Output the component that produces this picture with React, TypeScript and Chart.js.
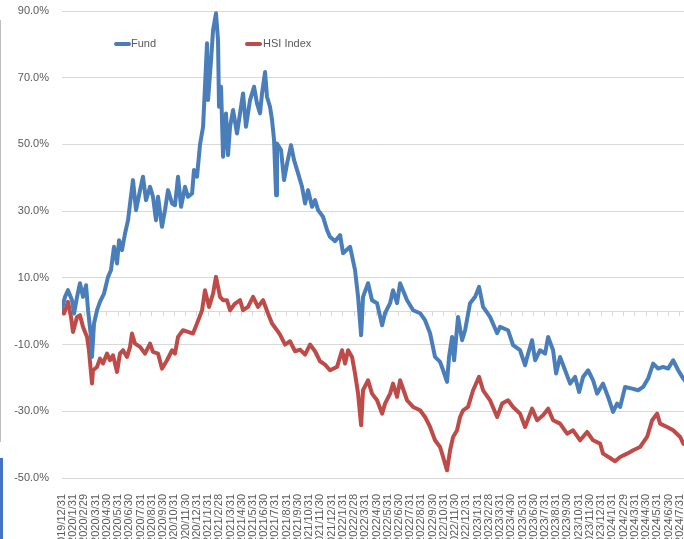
import React, { useEffect, useRef } from "react";
import { Chart, registerables } from "chart.js";

Chart.register(...registerables);

// Month-end category labels (index = months since 2019/12/31)
const monthLabels = [
  "2019/12/31", "2020/1/31", "2020/2/29", "2020/3/31", "2020/4/30", "2020/5/31", "2020/6/30",
  "2020/7/31", "2020/8/31", "2020/9/30", "2020/10/31", "2020/11/30", "2020/12/31",
  "2021/1/31", "2021/2/28", "2021/3/31", "2021/4/30", "2021/5/31", "2021/6/30", "2021/7/31",
  "2021/8/31", "2021/9/30", "2021/10/31", "2021/11/30", "2021/12/31",
  "2022/1/31", "2022/2/28", "2022/3/31", "2022/4/30", "2022/5/31", "2022/6/30", "2022/7/31",
  "2022/8/31", "2022/9/30", "2022/10/31", "2022/11/30", "2022/12/31",
  "2023/1/31", "2023/2/28", "2023/3/31", "2023/4/30", "2023/5/31", "2023/6/30", "2023/7/31",
  "2023/8/31", "2023/9/30", "2023/10/31", "2023/11/30", "2023/12/31",
  "2024/1/31", "2024/2/29", "2024/3/31", "2024/4/30", "2024/5/31", "2024/6/30", "2024/7/31",
  "2024/8/31",
];

const yTicks = [-50, -30, -10, 10, 30, 50, 70, 90];

// Fund: time (months since 2019/12/31) and cumulative return (%)
const fundT = [
  0, 0.27, 0.53, 0.89, 1.07, 1.34, 1.6, 1.87, 2.14, 2.32, 2.58, 2.67, 2.85, 3.12, 3.38, 3.74,
  4.1, 4.36, 4.63, 4.9, 5.08, 5.34, 5.61, 5.88, 6.06, 6.32, 6.59, 6.95, 7.21, 7.48, 7.84,
  8.1, 8.37, 8.55, 8.9, 9.17, 9.44, 9.8, 10.06, 10.33, 10.6, 10.95, 11.22, 11.58, 11.75,
  12.02, 12.29, 12.56, 12.73, 12.91, 13.0, 13.27, 13.45, 13.71, 13.89, 13.98, 14.16, 14.34,
  14.6, 14.78, 14.96, 15.23, 15.58, 15.85, 16.12, 16.38, 16.74, 17.1, 17.36, 17.63, 17.81,
  18.08, 18.25, 18.52, 18.7, 18.88, 19.06, 19.14, 19.5, 19.77, 20.04, 20.39, 20.66, 21.02,
  21.37, 21.64, 21.91, 22.26, 22.53, 22.8, 23.24, 23.6, 23.86, 24.31, 24.76, 25.02, 25.65,
  26.09, 26.36, 26.63, 26.8, 27.25, 27.6, 28.05, 28.5, 28.76, 29.21, 29.47, 29.83, 30.1,
  30.72, 31.26, 31.88, 32.32, 32.77, 33.21, 33.66, 33.93, 34.28, 34.46, 34.73, 34.91, 35.26,
  35.62, 35.89, 36.33, 36.78, 37.13, 37.49, 38.11, 38.74, 39.0, 39.71, 40.16, 40.78, 41.23,
  41.5, 41.85, 42.12, 42.56, 43.01, 43.28, 43.72, 43.99, 44.34, 44.79, 45.24, 45.68, 46.04,
  46.39, 46.84, 47.28, 47.64, 48.17, 48.62, 49.06, 49.42, 49.69, 50.13, 50.76, 51.29, 51.74,
  52.18, 52.63, 53.07, 53.52, 53.96, 54.41, 54.86, 55.31, 55.5,
];
const fundV = [
  1.0, 4.3, 6.3, 3.3, -0.7, 4.3, 8.4, 4.3, 7.8, 0.3, -7.7, -13.7, -3.7, 0.3, 2.8, 5.3,
  10.3, 12.3, 19.3, 14.3, 21.3, 18.3, 23.3, 27.3, 32.3, 39.3, 30.3, 36.3, 40.3, 33.3, 37.3,
  34.3, 27.3, 34.3, 25.3, 30.3, 36.3, 32.3, 31.8, 40.3, 31.3, 37.3, 34.3, 35.3, 42.3,
  40.3, 50.0, 55.3, 67.3, 80.3, 63.3, 75.3, 84.3, 89.3, 81.3, 61.3, 67.3, 46.3,
  59.3, 46.8, 55.3, 60.3, 53.3, 59.3, 65.3, 55.3, 63.3, 67.3, 62.3, 59.3, 65.3,
  71.7, 64.3, 61.3, 57.3, 51.3, 34.8, 50.3, 48.3, 39.3, 44.3, 49.8, 45.3, 41.3,
  37.3, 32.3, 36.3, 31.3, 33.3, 30.3, 28.3, 24.3, 22.3, 21.0, 22.8, 17.4, 19.3,
  12.3, 4.3, -7.2, 4.3, 8.4, 3.3, 2.4, -4.2, -0.6, 2.4, 6.3, 2.4, 8.4,
  3.3, 0.3, -0.6, -2.7, -6.6, -13.7, -15.2, -17.7, -21.2, -13.7, -7.7, -14.7, -1.7,
  -8.7, -5.7, 2.4, 4.3, 7.3, 1.3, -1.7, -6.6, -4.7, -5.7, -10.2, -11.7, -16.2,
  -12.7, -8.7, -14.7, -11.7, -12.7, -7.7, -11.7, -18.7, -13.7, -17.7, -21.7, -19.7, -24.2,
  -19.7, -17.7, -20.7, -24.7, -21.7, -25.7, -30.2, -27.7, -28.7, -22.7, -23.2, -23.7, -22.7,
  -20.2, -15.7, -17.2, -16.7, -17.2, -14.7, -17.7, -20.2, -21.0,
];

// HSI Index: time (months since 2019/12/31) and cumulative return (%)
const hsiT = [
  0, 0.18, 0.53, 0.8, 0.98, 1.34, 1.6, 1.87, 2.23, 2.4, 2.67, 2.76, 3.12, 3.38, 3.65, 4.01,
  4.27, 4.54, 4.9, 5.16, 5.43, 5.79, 6.06, 6.23, 6.5, 6.95, 7.39, 7.84, 8.1, 8.55, 8.9,
  9.35, 9.8, 10.06, 10.33, 10.77, 11.22, 11.66, 12.02, 12.47, 12.73, 13.09, 13.45, 13.71,
  14.07, 14.34, 14.69, 14.96, 15.41, 15.85, 16.12, 16.56, 17.01, 17.45, 17.9, 18.34, 18.7,
  19.14, 19.41, 19.86, 20.3, 20.75, 21.19, 21.64, 22.08, 22.53, 22.97, 23.42, 23.86, 24.49,
  24.93, 25.2, 25.47, 25.82, 26.09, 26.36, 26.63, 26.8, 27.25, 27.6, 28.05, 28.5, 28.76,
  29.21, 29.47, 29.83, 30.1, 30.72, 31.26, 31.88, 32.32, 32.77, 33.21, 33.66, 33.93, 34.28,
  34.55, 34.82, 35.17, 35.44, 35.71, 36.15, 36.6, 37.13, 37.49, 38.11, 38.74, 39.18, 39.71,
  40.16, 40.78, 41.23, 41.85, 42.3, 42.83, 43.28, 43.72, 44.34, 44.97, 45.5, 46.13, 46.75,
  47.28, 47.91, 48.17, 48.8, 49.24, 49.69, 50.31, 50.85, 51.47, 52.09, 52.54, 52.98, 53.25,
  53.87, 54.41, 55.04, 55.31, 55.5,
];
const hsiV = [
  1.3, -0.7, 2.8, -1.7, -6.2, -1.7, -1.2, -4.7, -7.7, -11.7, -21.7, -17.7, -16.7, -14.2, -15.7, -12.7,
  -14.7, -13.2, -18.2, -12.7, -11.7, -13.7, -10.7, -6.7, -9.7, -10.7, -12.7, -9.7, -12.2, -12.7, -17.2,
  -14.7, -11.7, -12.7, -7.7, -5.7, -6.2, -6.7, -3.7, 0.3, 6.3, 1.3, 5.3, 10.3,
  4.3, 3.3, 3.3, 0.3, 2.3, 3.3, 0.3, 1.3, 4.3, 1.3, 3.3, -0.7, -3.7,
  -5.7, -7.0, -10.0, -9.0, -12.0, -11.5, -13.0, -10.0, -12.0, -15.0, -16.0, -17.7, -16.7,
  -11.7, -15.7, -11.7, -13.7, -18.7, -24.7, -34.2, -23.7, -20.7, -24.7, -26.7, -30.7, -27.7,
  -24.7, -21.7, -25.7, -20.7, -26.7, -28.7, -29.7, -31.7, -34.7, -38.7, -40.7, -43.7, -47.7,
  -41.7, -37.7, -35.7, -31.7, -29.7, -28.7, -23.7, -19.7, -23.7, -26.7, -31.7, -27.7, -26.7,
  -28.7, -30.7, -34.7, -29.2, -32.7, -31.2, -29.2, -32.7, -33.7, -36.7, -35.7, -38.7, -36.2,
  -38.7, -39.7, -42.7, -44.0, -45.0, -43.7, -42.7, -41.7, -40.7, -37.7, -32.7, -30.7, -33.7,
  -34.7, -35.7, -37.7, -39.7, -40.0,
];

const FUND_COLOR = "#4a7ebb";
const HSI_COLOR = "#be4b48";
const GRID = "#d9d9d9";
const TEXT = "#595959";
const FONT = "'Liberation Sans', Arial, sans-serif";

export default function App() {
  const ref = useRef<HTMLCanvasElement | null>(null);

  useEffect(() => {
    if (!ref.current) return;
    const lineStyle = {
      borderWidth: 4,
      pointRadius: 0,
      tension: 0,
      borderJoinStyle: "round",
      borderCapStyle: "round",
      xAxisID: "x",
    };
    const chart = new Chart(ref.current, {
      type: "line",
      data: {
        datasets: [
          {
            label: "Fund",
            data: fundT.map((t, i) => ({ x: t, y: fundV[i] })),
            borderColor: FUND_COLOR,
            backgroundColor: FUND_COLOR,
            ...lineStyle,
          },
          {
            label: "HSI Index",
            data: hsiT.map((t, i) => ({ x: t, y: hsiV[i] })),
            borderColor: HSI_COLOR,
            backgroundColor: HSI_COLOR,
            ...lineStyle,
          },
        ],
      },
      options: {
        animation: false,
        responsive: false,
        devicePixelRatio: 1,
        layout: { padding: { left: 8, top: 11, right: 9, bottom: 0 } },
        plugins: { legend: { display: false }, tooltip: { enabled: false } },
        scales: {
          x: {
            type: "linear",
            position: "bottom",
            min: 0,
            max: monthLabels.length - 1,
            grid: { display: false },
            border: { display: false },
            afterFit: (s: any) => {
              s.height = 70;
              s.paddingLeft = 0;
              s.paddingRight = 0;
            },
            ticks: {
              stepSize: 1,
              autoSkip: false,
              maxRotation: 90,
              minRotation: 90,
              padding: 8,
              color: TEXT,
              font: { family: FONT, size: 11 },
              callback: (v: any) => monthLabels[Math.round(Number(v))] ?? "",
            },
          },
          x2: {
            type: "linear",
            axis: "x",
            position: { y: 0 },
            min: 0,
            max: monthLabels.length - 1,
            grid: { drawOnChartArea: false, drawTicks: true, tickLength: 4, color: GRID },
            border: { display: true, color: GRID, width: 1 },
            ticks: { display: false, stepSize: 1, autoSkip: false },
            afterFit: (s: any) => {
              s.paddingLeft = 0;
              s.paddingRight = 0;
            },
          },
          y: {
            type: "linear",
            min: -50,
            max: 90,
            afterFit: (s: any) => {
              s.width = 54;
              s.paddingTop = 0;
              s.paddingBottom = 0;
            },
            afterBuildTicks: (s: any) => { s.ticks = yTicks.map((v) => ({ value: v })); },
            grid: { color: GRID, drawTicks: false, lineWidth: 1 },
            border: { display: false },
            ticks: {
              padding: 13,
              color: TEXT,
              font: { family: FONT, size: 11 },
              callback: (v: any) => Number(v).toFixed(1) + "%",
            },
          },
        },
      },
    } as any);
    return () => chart.destroy();
  }, []);

  const legendText: React.CSSProperties = {
    position: "absolute",
    fontFamily: FONT,
    fontSize: 11,
    color: TEXT,
    lineHeight: "13px",
    top: 37,
    whiteSpace: "nowrap",
  };
  const legendLine = (color: string, left: number): React.CSSProperties => ({
    position: "absolute",
    left,
    top: 42,
    width: 17,
    height: 3.5,
    borderRadius: 2,
    background: color,
  });

  return (
    <div
      style={{
        position: "absolute",
        left: 0,
        top: 0,
        width: 684,
        height: 539,
        overflow: "hidden",
        background: "#ffffff",
      }}
    >
      <canvas ref={ref} width={700} height={548} style={{ position: "absolute", left: 0, top: 0, width: 700, height: 548 }} />
      <div style={legendLine(FUND_COLOR, 114)} />
      <div style={{ ...legendText, left: 131 }}>Fund</div>
      <div style={legendLine(HSI_COLOR, 245)} />
      <div style={{ ...legendText, left: 263 }}>HSI Index</div>
      <div style={{ position: "absolute", left: 0, top: 20, width: 1, height: 422, background: "#bfbfbf" }} />
      <div style={{ position: "absolute", left: 0, top: 458, width: 3, height: 81, background: "#4472c4" }} />
    </div>
  );
}
